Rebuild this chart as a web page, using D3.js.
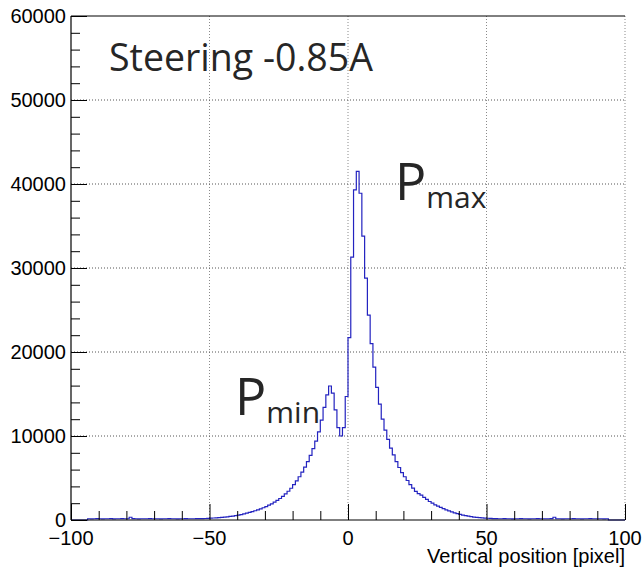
<!DOCTYPE html>
<html>
<head>
<meta charset="utf-8">
<script src="https://cdn.jsdelivr.net/npm/d3@7"></script>
<style>
  body { margin: 0; background: #ffffff; }
  .tick-label { font-family: "Liberation Sans", Arial, sans-serif; font-size: 20px; fill: #000; }
  .note { font-family: "Open Sans", "Noto Sans", sans-serif; fill: #262626; }
</style>
</head>
<body>
<div id="vis"></div>
<script>
// histogram binning: 200 bins of width 1 from -100 to 100
var binStart = -100;
var binWidth = 1;

// counts per bin (10 bins per row)
var counts = [
  0, 0, 0, 0, 0, 0, 150, 140, 150, 160,                             // -100 .. -91
  150, 140, 150, 150, 160, 140, 150, 150, 160, 150,                 // -90 .. -81
  150, 330, 160, 150, 140, 150, 150, 150, 160, 150,                 // -80 .. -71
  150, 150, 140, 150, 150, 160, 150, 150, 140, 150,                 // -70 .. -61
  150, 160, 150, 150, 150, 160, 170, 170, 180, 200,                 // -60 .. -51
  220, 240, 260, 280, 310, 340, 380, 420, 470, 520,                 // -50 .. -41
  580, 650, 730, 810, 900, 1000, 1100, 1210, 1330, 1460,            // -40 .. -31
  1600, 1760, 1930, 2120, 2330, 2560, 2820, 3100, 3420, 3780,       // -30 .. -21
  4200, 4650, 5150, 5700, 6300, 6950, 7700, 8500, 9400, 10500,      // -20 .. -11
  11900, 13400, 14900, 15950, 15100, 13100, 11000, 10000, 11000, 14700, // -10 .. -1
  21700, 31300, 39300, 41500, 38900, 33800, 28800, 24400, 21000, 18200, // 0 .. 9
  15800, 13800, 12000, 10700, 9600, 8550, 7750, 6950, 6250, 5650,   // 10 .. 19
  5150, 4700, 4200, 3800, 3400, 3150, 2950, 2700, 2450, 2200,       // 20 .. 29
  2000, 1800, 1650, 1500, 1350, 1200, 1080, 960, 850, 750,          // 30 .. 39
  660, 580, 510, 450, 400, 350, 310, 280, 250, 230,                 // 40 .. 49
  210, 190, 170, 160, 150, 150, 160, 150, 150, 140,                 // 50 .. 59
  150, 150, 160, 150, 150, 140, 150, 150, 160, 150,                 // 60 .. 69
  150, 150, 150, 160, 330, 150, 150, 140, 150, 150,                 // 70 .. 79
  150, 160, 150, 150, 140, 150, 150, 160, 150, 150,                 // 80 .. 89
  150, 150, 140, 150, 0, 0, 0, 0, 0, 0                              // 90 .. 99
];

// axis ticks and labels
var xTicks = [-100, -50, 0, 50, 100];
var xTickLabels = ["\u2212100", "\u221250", "0", "50", "100"];
var yTicks = [0, 10000, 20000, 30000, 40000, 50000, 60000];
var xTitle = "Vertical position [pixel]";
var title = "Steering -0.85A";

// canvas and frame
var width = 643;
var height = 568;
var margin = { top: 16, left: 71, bottom: 48, right: 18 };
var plotW = width - margin.left - margin.right;
var plotH = height - margin.top - margin.bottom;

var svg = d3.select('#vis').append('svg')
  .attr('width', width)
  .attr('height', height);

svg.append('rect')
  .attr('width', width)
  .attr('height', height)
  .attr('fill', '#ffffff');

var g = svg.append('g')
  .attr('transform', 'translate(' + margin.left + ',' + margin.top + ')');

var x = d3.scaleLinear().domain([-100, 100]).range([0, plotW]);
var y = d3.scaleLinear().domain([0, 60000]).range([plotH, 0]);

// dotted grid
g.selectAll('.vgrid')
  .data(xTicks.slice(1))
  .enter().append('line')
  .attr('class', 'vgrid')
  .attr('x1', function (d) { return x(d); })
  .attr('x2', function (d) { return x(d); })
  .attr('y1', 0)
  .attr('y2', plotH)
  .attr('stroke', '#8a8a8a')
  .attr('stroke-width', 1)
  .attr('stroke-dasharray', '1,2');

g.selectAll('.hgrid')
  .data(yTicks.slice(1, -1))
  .enter().append('line')
  .attr('class', 'hgrid')
  .attr('x1', 0)
  .attr('x2', plotW)
  .attr('y1', function (d) { return y(d); })
  .attr('y2', function (d) { return y(d); })
  .attr('stroke', '#555')
  .attr('stroke-width', 1)
  .attr('stroke-dasharray', '1,2');

// histogram as a step line
var pts = counts.map(function (c, i) {
  return [binStart + i * binWidth, c];
});
pts.push([binStart + counts.length * binWidth, counts[counts.length - 1]]);

var line = d3.line()
  .x(function (d) { return x(d[0]); })
  .y(function (d) { return y(d[1]); })
  .curve(d3.curveStepAfter);

g.append('path')
  .datum(pts)
  .attr('d', line)
  .attr('fill', 'none')
  .attr('stroke', '#2323c0')
  .attr('stroke-width', 1.2);

// axes, ROOT style: inward ticks
var xAxis = d3.axisTop(x)
  .tickValues(d3.range(-100, 101, 10))
  .tickSize(9)
  .tickFormat('');
g.append('g')
  .attr('transform', 'translate(0,' + plotH + ')')
  .call(xAxis)
  .call(function (s) {
    s.select('.domain').remove();
    s.selectAll('line').attr('stroke', '#000');
    s.selectAll('.tick').filter(function (d) { return d % 50 === 0; })
      .select('line').attr('y2', -16);
  });

var yAxis = d3.axisRight(y)
  .tickValues(d3.range(0, 60001, 2000))
  .tickSize(9)
  .tickFormat('');
g.append('g')
  .call(yAxis)
  .call(function (s) {
    s.select('.domain').remove();
    s.selectAll('line').attr('stroke', '#000');
    s.selectAll('.tick').filter(function (d) { return d % 10000 === 0; })
      .select('line').attr('x2', 16);
  });

// frame lines
g.append('line').attr('x1', 0).attr('x2', plotW).attr('y1', plotH).attr('y2', plotH)
  .attr('stroke', '#000').attr('stroke-width', 1.2);
g.append('line').attr('x1', 0).attr('x2', 0).attr('y1', 0).attr('y2', plotH)
  .attr('stroke', '#000').attr('stroke-width', 1.2);
g.append('line').attr('x1', 0).attr('x2', plotW).attr('y1', 0).attr('y2', 0)
  .attr('stroke', '#000').attr('stroke-width', 1);

// tick labels
g.selectAll('.xlab')
  .data(xTicks)
  .enter().append('text')
  .attr('class', 'tick-label')
  .attr('x', function (d) { return x(d); })
  .attr('y', plotH + 25)
  .attr('text-anchor', 'middle')
  .text(function (d, i) { return xTickLabels[i]; });

g.selectAll('.ylab')
  .data(yTicks)
  .enter().append('text')
  .attr('class', 'tick-label')
  .attr('x', -5)
  .attr('y', function (d) { return y(d) + 7; })
  .attr('text-anchor', 'end')
  .text(function (d) { return d; });

g.append('text')
  .attr('class', 'tick-label')
  .attr('x', plotW)
  .attr('y', plotH + 43)
  .attr('text-anchor', 'end')
  .style('font-size', '20px')
  .text(xTitle);

// annotations
svg.append('text')
  .attr('class', 'note')
  .attr('x', 109)
  .attr('y', 71)
  .style('font-size', '37.5px')
  .text(title);

function peakLabel(px, py, sub) {
  var t = svg.append('text')
    .attr('class', 'note')
    .attr('x', px)
    .attr('y', py)
    .style('font-size', '52px');
  t.append('tspan').text('P');
  t.append('tspan')
    .attr('dy', 8)
    .style('font-size', '30px')
    .text(sub);
}

peakLabel(395, 200, 'max');
peakLabel(235, 415, 'min');
</script>
</body>
</html>
